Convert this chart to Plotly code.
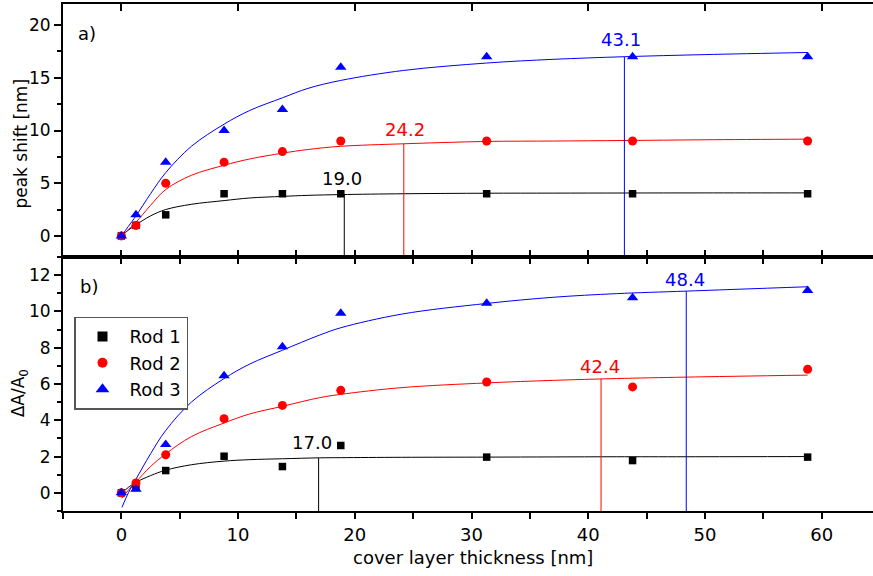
import plotly.graph_objects as go

# ---------------- data ----------------
thickness = [0, 1.25, 3.8, 8.8, 13.8, 18.8, 31.3, 43.8, 58.8]

# panel a) peak shift [nm]
shift_rod1 = [0, 1, 2, 4, 4, 4, 4, 4, 4]
shift_rod2 = [0, 1, 5, 7, 8, 9, 9, 9, 9]
shift_rod3 = [0, 2, 7, 10, 12, 16, 17, 17, 17]

# panel b) dA/A0
dA_rod1 = [0, 0.3, 1.23, 2.02, 1.45, 2.61, 1.97, 1.78, 1.97]
dA_rod2 = [0, 0.55, 2.1, 4.09, 4.82, 5.65, 6.11, 5.84, 6.81]
dA_rod3 = [0, 0.2, 2.67, 6.45, 8.05, 9.9, 10.45, 10.75, 11.15]

# fitted curves
fit_x_top = [0, 0.6, 1.25, 2.5, 3.8, 6, 8.8, 11, 13.8, 16, 18.8, 24.2, 31.3, 37, 43.1, 50, 58.8]
fit_a_rod1 = [0, 0.55, 1.05, 1.9, 2.5, 3.0, 3.35, 3.6, 3.75, 3.85, 3.92, 4.0, 4.05, 4.06, 4.07, 4.08, 4.08]
fit_a_rod2 = [0, 0.6, 1.3, 2.9, 4.4, 5.75, 6.7, 7.3, 7.85, 8.2, 8.5, 8.74, 8.96, 9.0, 9.05, 9.12, 9.18]
fit_a_rod3 = [0, 0.9, 1.9, 4.0, 6.0, 8.5, 10.6, 11.9, 13.1, 14.0, 14.75, 15.7, 16.4, 16.75, 17.0, 17.2, 17.4]

fit_x_bot = [0.05, 0.6, 1.25, 2.5, 3.8, 6, 8.8, 11, 13.8, 17, 18.8, 24, 31.3, 37, 42.4, 48.4, 58.8]
fit_b_rod1 = [0, 0.3, 0.58, 0.95, 1.25, 1.55, 1.75, 1.83, 1.88, 1.93, 1.94, 1.96, 1.97, 1.98, 1.99, 1.99, 2.0]
fit_b_rod2 = [-0.3, 0.15, 0.6, 1.45, 2.15, 3.1, 3.85, 4.35, 4.77, 5.25, 5.43, 5.8, 6.06, 6.2, 6.3, 6.38, 6.49]
fit_b_rod3 = [-0.8, 0.0, 0.75, 2.15, 3.44, 5.0, 6.3, 7.1, 7.86, 8.7, 9.1, 9.85, 10.44, 10.78, 10.98, 11.12, 11.36]

# marked characteristic thicknesses
mark_a_x = [19.1, 24.2, 43.1]
mark_a_top = [3.92, 8.74, 17.0]
mark_a_text = ["19.0", "24.2", "43.1"]
mark_a_lab_x = [18.87, 24.28, 42.78]
mark_a_lab_y = [5.45, 10.06, 18.6]

mark_b_x = [16.9, 41.1, 48.4]
mark_b_top = [1.93, 6.3, 11.12]
mark_b_text = ["17.0", "42.4", "48.4"]
mark_b_lab_x = [16.31, 41.02, 48.32]
mark_b_lab_y = [2.75, 6.99, 11.77]

rods = ["Rod 1", "Rod 2", "Rod 3"]
colors = ["#000000", "#ff0000", "#0000ff"]
symbols = ["square", "circle", "triangle-up"]
msizes = [7.5, 9, 10]
legend_sizes = [10, 10, 12]

xtick_vals = [0, 10, 20, 30, 40, 50, 60]

# ---------------- figure ----------------
FONT = "DejaVu Sans"
fig = go.Figure()

YMIN_A, YMAX_A = -2, 22
YMIN_B, YMAX_B = -1, 13

shift_sets = [shift_rod1, shift_rod2, shift_rod3]
dA_sets = [dA_rod1, dA_rod2, dA_rod3]
fit_a = [fit_a_rod1, fit_a_rod2, fit_a_rod3]
fit_b = [fit_b_rod1, fit_b_rod2, fit_b_rod3]

for i in range(3):
    # vertical marker lines
    fig.add_trace(go.Scatter(x=[mark_a_x[i], mark_a_x[i]], y=[YMIN_A, mark_a_top[i]],
                             mode="lines", line=dict(color=colors[i], width=1),
                             xaxis="x", yaxis="y", showlegend=False, hoverinfo="skip"))
    fig.add_trace(go.Scatter(x=[mark_b_x[i], mark_b_x[i]], y=[YMIN_B, mark_b_top[i]],
                             mode="lines", line=dict(color=colors[i], width=1),
                             xaxis="x2", yaxis="y2", showlegend=False, hoverinfo="skip"))
    # fit curves
    fig.add_trace(go.Scatter(x=fit_x_top, y=fit_a[i], mode="lines",
                             line=dict(color=colors[i], width=1, shape="spline", smoothing=1),
                             xaxis="x", yaxis="y", showlegend=False, hoverinfo="skip"))
    fig.add_trace(go.Scatter(x=fit_x_bot, y=fit_b[i], mode="lines",
                             line=dict(color=colors[i], width=1, shape="spline", smoothing=1),
                             xaxis="x2", yaxis="y2", showlegend=False, hoverinfo="skip"))

for i in range(3):
    fig.add_trace(go.Scatter(x=thickness, y=shift_sets[i], mode="markers",
                             marker=dict(color=colors[i], symbol=symbols[i], size=msizes[i]),
                             xaxis="x", yaxis="y", showlegend=False, name=rods[i]))
    fig.add_trace(go.Scatter(x=thickness, y=dA_sets[i], mode="markers",
                             marker=dict(color=colors[i], symbol=symbols[i], size=msizes[i]),
                             xaxis="x2", yaxis="y2", showlegend=False, name=rods[i]))

# legend entries
for i in range(3):
    fig.add_trace(go.Scatter(x=[None], y=[None], mode="markers", name=rods[i],
                             marker=dict(color=colors[i], symbol=symbols[i], size=legend_sizes[i]),
                             xaxis="x2", yaxis="y2", showlegend=True))

annotations = []
for i in range(3):
    annotations.append(dict(x=mark_a_lab_x[i], y=mark_a_lab_y[i], xref="x", yref="y",
                            text=mark_a_text[i], showarrow=False,
                            font=dict(family=FONT, size=18, color=colors[i])))
    annotations.append(dict(x=mark_b_lab_x[i], y=mark_b_lab_y[i], xref="x2", yref="y2",
                            text=mark_b_text[i], showarrow=False,
                            font=dict(family=FONT, size=18, color=colors[i])))

annotations += [
    dict(x=0.016, y=0.9427, xref="paper", yref="paper", text="a)", showarrow=False,
         xanchor="left", yanchor="middle", font=dict(family=FONT, size=18, color="black")),
    dict(x=0.018, y=0.503, xref="paper", yref="paper", text="b)", showarrow=False,
         xanchor="left", yanchor="middle", font=dict(family=FONT, size=18, color="black")),
    dict(x=-0.053, y=(576 - 143.5) / 576, xref="paper", yref="paper", text="peak shift [nm]",
         textangle=-90, showarrow=False, xanchor="center", yanchor="middle",
         font=dict(family=FONT, size=17, color="black")),
    dict(x=-0.054, y=(576 - 393) / 576, xref="paper", yref="paper", text="ΔA/A<sub>0</sub>",
         textangle=-90, showarrow=False, xanchor="center", yanchor="middle",
         font=dict(family=FONT, size=17, color="black")),
    dict(x=(472.5 - 63) / 810, y=(576 - 557) / 576, xref="paper", yref="paper",
         text="cover layer thickness [nm]", showarrow=False, xanchor="center", yanchor="middle",
         font=dict(family=FONT, size=18, color="black")),
]

XR = [-5.0, 64.4]
dom_a = [(576 - 257) / 576, (576 - 4) / 576]
dom_b = [(576 - 511) / 576, (576 - 257) / 576]

axis_common = dict(showgrid=False, zeroline=False, showline=True, linecolor="black", linewidth=2,
                   tickcolor="black", tickwidth=1.5)

fig.update_layout(
    width=873, height=576,
    margin=dict(l=63, r=0, t=0, b=0),
    paper_bgcolor="white", plot_bgcolor="white",
    font=dict(family=FONT, color="black"),
    xaxis=dict(axis_common, domain=[0, 1], range=XR, anchor="y", side="bottom",
               ticks="inside", tickmode="linear", tick0=0, dtick=5, ticklen=7,
               showticklabels=False),
    xaxis3=dict(axis_common, range=XR, anchor="y", overlaying="x", side="top",
                ticks="inside", tickmode="linear", tick0=0, dtick=10, ticklen=7,
                showticklabels=False),
    xaxis2=dict(axis_common, domain=[0, 1], range=XR, anchor="y2", side="bottom",
                ticks="outside", tickvals=xtick_vals, ticklen=6,
                tickfont=dict(family=FONT, size=18),
                minor=dict(ticks="outside", tickmode="linear", tick0=0, dtick=5, ticklen=6,
                           tickwidth=1.5, tickcolor="black"),
                ticklabelstandoff=0),
    xaxis4=dict(axis_common, range=XR, anchor="y2", overlaying="x2", side="top",
                ticks="inside", tickmode="linear", tick0=0, dtick=5, ticklen=7,
                showticklabels=False),
    yaxis=dict(axis_common, domain=dom_a, range=[YMIN_A, YMAX_A], anchor="x",
               ticks="outside", tickmode="linear", tick0=0, dtick=5, ticklen=7,
               tickfont=dict(family=FONT, size=17),
               minor=dict(ticks="outside", tickmode="linear", tick0=0, dtick=2.5, ticklen=4,
                          tickwidth=1.5, tickcolor="black")),
    yaxis2=dict(axis_common, domain=dom_b, range=[YMIN_B, YMAX_B], anchor="x2",
                ticks="outside", tickmode="linear", tick0=0, dtick=2, ticklen=7,
                tickfont=dict(family=FONT, size=17),
                minor=dict(ticks="outside", tickmode="linear", tick0=0, dtick=1, ticklen=4,
                           tickwidth=1.5, tickcolor="black")),
    showlegend=True,
    legend=dict(x=(74 - 63) / 810, y=(576 - 316.7) / 576, xanchor="left", yanchor="top",
                bgcolor="white", bordercolor="#555555", borderwidth=1.5,
                font=dict(family=FONT, size=18, color="black"),
                itemwidth=44, tracegroupgap=0),
    annotations=annotations,
)

# dummy traces so the overlaying top axes are rendered
fig.add_trace(go.Scatter(x=[None], y=[None], xaxis="x3", yaxis="y", showlegend=False))
fig.add_trace(go.Scatter(x=[None], y=[None], xaxis="x4", yaxis="y2", showlegend=False))

fig.write_html("out.html")
